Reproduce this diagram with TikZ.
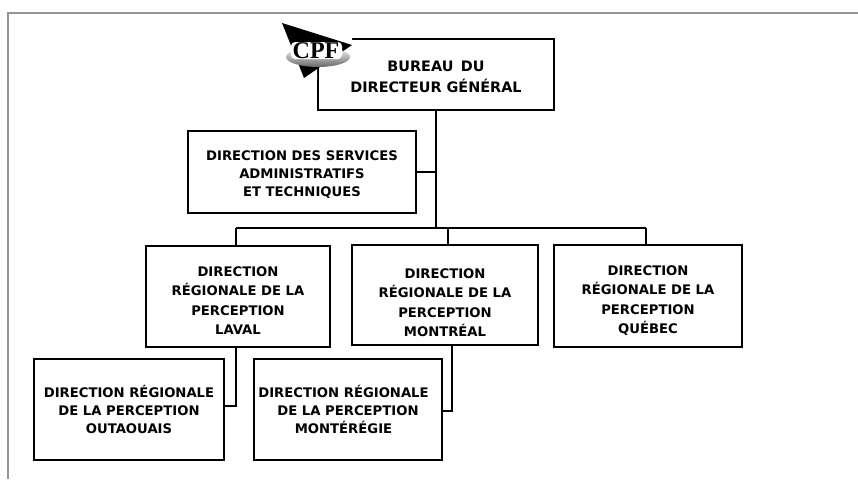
\documentclass[tikz,border=0pt]{standalone}
\usepackage{fontspec}
\setmainfont{DejaVu Sans}
\newfontfamily\logofont{Liberation Serif}
\tikzset{
  boite/.style={draw, line width=2.1pt, inner sep=0pt, align=center, font=\bfseries\fontsize{13.2}{17.8}\selectfont},
  grande/.style={font=\bfseries\fontsize{13.2}{19.3}\selectfont},
  lien/.style={line width=2.1pt},
  cadre/.style={line width=2pt, color=black!42},
  sigle/.style={font=\logofont\bfseries\fontsize{24}{24}\selectfont, inner sep=0pt}
}
\begin{document}
\begin{tikzpicture}[x=1pt, y=-1pt]
\useasboundingbox (0,0) rectangle (858,479);
\draw[cadre] (8,479) -- (8,13) -- (858,13);
\node[boite, minimum width=236pt, minimum height=71pt, font=\bfseries\fontsize{14.4}{20.5}\selectfont, text height=36pt] (bureau) at (436,74.5){BUREAU\, DU\\DIRECTEUR GÉNÉRAL};
\node[boite, minimum width=228pt, minimum height=82pt, text height=51pt] (services) at (302,172){DIRECTION DES SERVICES\\ADMINISTRATIFS\\ET TECHNIQUES};
\node[boite, grande, minimum width=184pt, minimum height=101pt, text height=76pt] (laval) at (238,296.5){DIRECTION\\RÉGIONALE DE LA\\PERCEPTION\\LAVAL};
\node[boite, grande, minimum width=186pt, minimum height=100pt, text height=83pt] (montreal) at (445,295){DIRECTION\\RÉGIONALE DE LA\\PERCEPTION\\MONTRÉAL};
\node[boite, grande, minimum width=188pt, minimum height=102pt, text height=77pt] (quebec) at (648,296){DIRECTION\\RÉGIONALE DE LA\\PERCEPTION\\QUÉBEC};
\node[boite, minimum width=190pt, minimum height=101pt] (outaouais) at (129,409.5){DIRECTION RÉGIONALE\\DE LA PERCEPTION\\OUTAOUAIS};
\node[boite, minimum width=188pt, minimum height=101pt] (monteregie) at (348,409.5){DIRECTION RÉGIONALE\hspace*{9pt}\\DE LA PERCEPTION\hspace*{9pt}\\MONTÉRÉGIE\hspace*{9pt}};
% points de jonction
\coordinate (tronc) at (436,228);
\coordinate (gauche) at (236,228);
\coordinate (centre) at (448,228);
\coordinate (droite) at (646,228);
\coordinate (coudeA) at (236,406);
\coordinate (coudeB) at (452,411);
\draw[lien] (bureau.south -| tronc) -- (tronc);
\draw[lien] (services.east) -- (services.east -| tronc);
\draw[lien] (gauche) -- (droite);
\draw[lien] (gauche) -- (laval.north -| gauche);
\draw[lien] (centre) -- (montreal.north -| centre);
\draw[lien] (droite) -- (quebec.north -| droite);
\draw[lien] (laval.south -| coudeA) -- (coudeA) -- (coudeA -| outaouais.east);
\draw[lien] (montreal.south -| coudeB) -- (coudeB) -- (coudeB -| monteregie.east);
% logo
\fill[white] (276,17) rectangle (352,37) (276,37) rectangle (317,80) (317,37) rectangle (352,60);
\fill[black] (282,23) -- (352,45) -- (304,78) -- cycle;
\shade[top color=white, bottom color=black!60] (318,57) ellipse (32 and 10);
\fill[white, rounded corners=4pt] (291,42) rectangle (342,59);
\node[sigle] (logo) at (316,50.5){CPF};
\end{tikzpicture}
\end{document}
